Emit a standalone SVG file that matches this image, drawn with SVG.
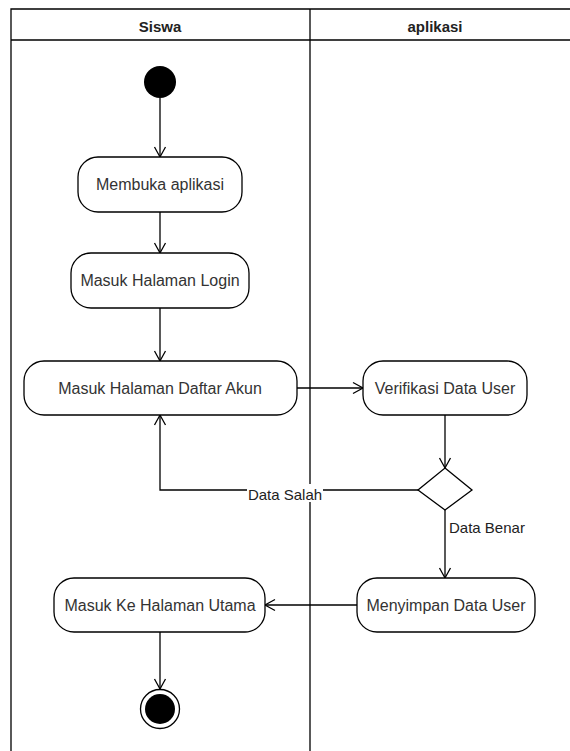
<svg xmlns="http://www.w3.org/2000/svg" width="570" height="751" viewBox="0 0 570 751">
<defs>
<marker id="arr" markerUnits="userSpaceOnUse" markerWidth="14" markerHeight="14" viewBox="-1 -7 12 14" refX="10" refY="0" orient="auto">
<path d="M0,-5.5 L10,0 L0,5.5" fill="none" stroke="#000" stroke-width="1.3"/>
</marker>
<style>
.lane{fill:none;stroke:#000;stroke-width:1.3}
.hdr{font-family:"Liberation Sans",Arial,sans-serif;font-size:15px;font-weight:bold;fill:#222;text-anchor:middle}
.node{fill:#fff;stroke:#000;stroke-width:1.3}
.t{font-family:"Liberation Sans",Arial,sans-serif;font-size:16px;fill:#333;text-anchor:middle;dominant-baseline:central}
.lbl{font-family:"Liberation Sans",Arial,sans-serif;font-size:15px;fill:#222;dominant-baseline:central}
.edge{fill:none;stroke:#000;stroke-width:1.3;marker-end:url(#arr)}
</style>
</defs>
<rect width="570" height="751" fill="#fff"/>
<g id="swimlanes">
<path class="lane" d="M11,751 V9 H570 M11,40 H570 M310,9 V751"/>
<text class="hdr" x="160" y="32">Siswa</text>
<text class="hdr" x="435" y="32">aplikasi</text>
</g>
<g id="connectors">
<path class="edge" d="M160,98 V157"/>
<path class="edge" d="M160,212 V253"/>
<path class="edge" d="M160,308 V361"/>
<path class="edge" d="M297,388 H363"/>
<path class="edge" d="M445,415 V468"/>
<path class="edge" d="M418,490 H160 V415"/>
<path class="edge" d="M445,510 V578"/>
<path class="edge" d="M357,605 H265"/>
<path class="edge" d="M160,632 V689"/>
<rect x="247" y="484" width="76" height="18" fill="#fff"/>
<text class="lbl" x="285" y="494" text-anchor="middle">Data Salah</text>
<text class="lbl" x="449" y="527">Data Benar</text>
</g>
<g id="start"><circle cx="160" cy="82" r="16" fill="#000"/></g>
<g id="membuka"><rect class="node" x="78" y="157" width="164" height="55" rx="20"/><text class="t" x="160" y="184.5">Membuka aplikasi</text></g>
<g id="login"><rect class="node" x="71" y="253" width="178" height="55" rx="20"/><text class="t" x="160" y="280.5">Masuk Halaman Login</text></g>
<g id="daftar"><rect class="node" x="24" y="361" width="273" height="54" rx="20"/><text class="t" x="160" y="388">Masuk Halaman Daftar Akun</text></g>
<g id="verifikasi"><rect class="node" x="363" y="361" width="164" height="54" rx="20"/><text class="t" x="445" y="388">Verifikasi Data User</text></g>
<g id="decision"><path class="node" d="M445,468 L472,490 L445,510 L418,490 Z"/></g>
<g id="menyimpan"><rect class="node" x="357" y="578" width="178" height="54" rx="20"/><text class="t" x="446" y="605">Menyimpan Data User</text></g>
<g id="utama"><rect class="node" x="54" y="578" width="211" height="54" rx="20"/><text class="t" x="160" y="605">Masuk Ke Halaman Utama</text></g>
<g id="end"><circle cx="160" cy="709" r="19.5" fill="#fff" stroke="#000" stroke-width="1.3"/><circle cx="160" cy="709" r="15" fill="#000"/></g>
</svg>
